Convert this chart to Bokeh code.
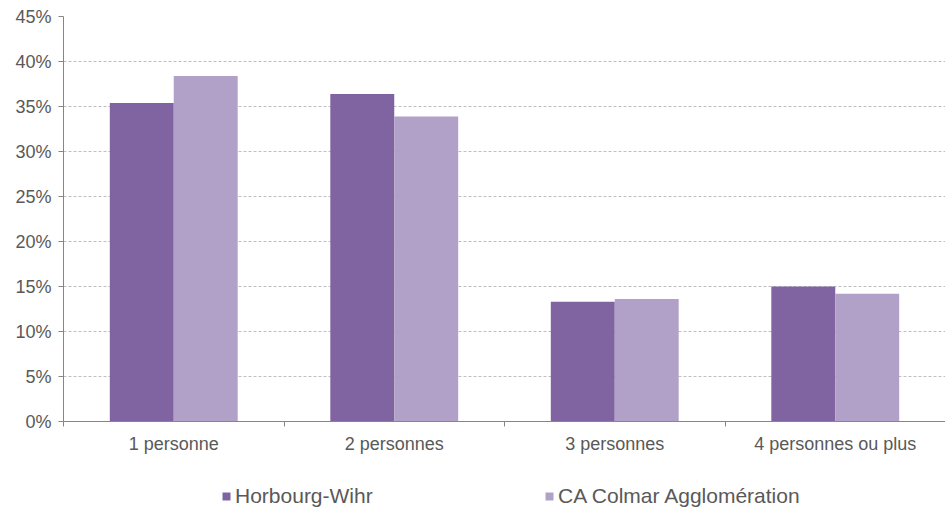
from bokeh.plotting import figure
from bokeh.layouts import column
from bokeh.models import FixedTicker, PrintfTickFormatter, Legend, LegendItem, Range1d, ColumnDataSource
from bokeh.embed import file_html
from bokeh.resources import INLINE

categories = ["1 personne", "2 personnes", "3 personnes", "4 personnes ou plus"]
series_names = ["Horbourg-Wihr", "CA Colmar Agglomération"]
horbourg = [35.4, 36.4, 13.3, 15.0]
colmar = [38.4, 33.9, 13.6, 14.2]
colors = ["#8064A2", "#B1A0C7"]
y_ticks = [0, 5, 10, 15, 20, 25, 30, 35, 40, 45]

FONT = "Liberation Sans"
TXT = "#595959"

p = figure(frame_width=882, frame_height=405, output_backend="svg", toolbar_location=None,
           x_range=Range1d(0, len(categories)), y_range=Range1d(0, 45),
           min_border_left=63, min_border_right=0, min_border_top=16, min_border_bottom=40)
p.outline_line_color = None
p.background_fill_color = "white"
p.border_fill_color = "white"

bw = 0.29
xs = list(range(len(categories)))
src1 = ColumnDataSource(dict(x=[i + 0.5 - bw / 2 for i in xs], top=horbourg))
src2 = ColumnDataSource(dict(x=[i + 0.5 + bw / 2 for i in xs], top=colmar))
p.vbar(x="x", top="top", width=bw, source=src1, fill_color=colors[0], line_color=None)
p.vbar(x="x", top="top", width=bw, source=src2, fill_color=colors[1], line_color=None)

xa = p.xaxis[0]
xa.ticker = FixedTicker(ticks=[i + 0.5 for i in xs], minor_ticks=list(range(len(categories) + 1)))
xa.major_label_overrides = {i + 0.5: c for i, c in zip(xs, categories)}
xa.major_tick_line_color = None
xa.minor_tick_line_color = "#868686"
xa.minor_tick_out = 5
xa.minor_tick_in = 0
xa.axis_line_color = "#868686"
xa.major_label_text_font = FONT
xa.major_label_text_font_size = "18px"
xa.major_label_text_color = TXT
xa.major_label_standoff = 6

ya = p.yaxis[0]
ya.ticker = FixedTicker(ticks=y_ticks, minor_ticks=[])
ya.formatter = PrintfTickFormatter(format="%d%%")
ya.axis_line_color = "#868686"
ya.major_tick_line_color = "#868686"
ya.major_tick_out = 5
ya.major_tick_in = 0
ya.minor_tick_line_color = None
ya.major_label_text_font = FONT
ya.major_label_text_font_size = "18px"
ya.major_label_text_color = TXT
ya.major_label_standoff = 7

p.xgrid.grid_line_color = None
p.ygrid.grid_line_color = "#BFBFBF"
p.ygrid.grid_line_dash = "3 2"

# legend strip below the chart (its frame is aligned with the chart frame)
lg = figure(width=945, height=53, output_backend="svg", toolbar_location=None,
            x_range=Range1d(0, 1), y_range=Range1d(0, 1),
            min_border_left=0, min_border_right=0, min_border_top=0, min_border_bottom=0)
lg.axis.visible = False
lg.grid.visible = False
lg.outline_line_color = None
lg.background_fill_color = "white"
lr1 = lg.vbar(x=[5], top=[1], width=0.1, fill_color=colors[0], line_color=None)
lr2 = lg.vbar(x=[5], top=[1], width=0.1, fill_color=colors[1], line_color=None)

legend_x = [158, 481]
for name, rr, lx in zip(series_names, [lr1, lr2], legend_x):
    leg = Legend(items=[LegendItem(label=name, renderers=[rr])],
                 orientation="horizontal", location=(lx, 6),
                 label_text_font=FONT, label_text_font_size="21px", label_text_color=TXT,
                 glyph_width=10, glyph_height=10, label_standoff=4,
                 border_line_color=None, background_fill_alpha=0, padding=0, margin=0)
    lg.add_layout(leg, "center")

layout = column(p, lg, spacing=0)
open("out.html", "w").write(file_html(layout, INLINE))
